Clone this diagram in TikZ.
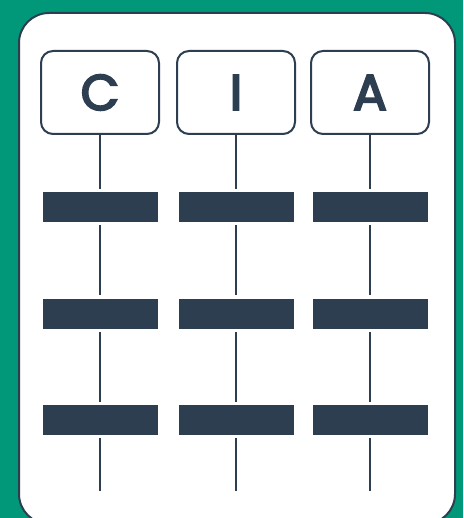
\documentclass[tikz,border=0pt]{standalone}
\usepackage{fontspec}
\setmainfont{Poppins}
\newfontfamily\headfont{Poppins}[FakeBold=4]
\usepackage{tikz}
\usetikzlibrary{positioning}
\definecolor{slate}{HTML}{2C3E50}
\definecolor{teal green}{HTML}{009879}

\begin{document}
\begin{tikzpicture}[
    x=1pt, y=1pt,
    node distance=76pt,
    head/.style={draw=slate, line width=2pt, rounded corners=12pt,
                 minimum width=118pt, minimum height=83pt, inner sep=0pt,
                 text=slate, font=\headfont\fontsize{50}{50}\selectfont},
    bar/.style={fill=slate, minimum width=115pt, minimum height=30pt,
                inner sep=0pt},
    link/.style={draw=slate, line width=2.2pt},
    gap/.style={shorten >=3pt},
    gaps/.style={shorten <=3pt, shorten >=3pt}
  ]
    % background and panel
    \fill[teal green] (0,0) rectangle (463,518);
    \useasboundingbox (0,0) rectangle (463,518);
    \draw[slate, fill=white, line width=2pt, rounded corners=30pt]
      (19,-6) rectangle (455,505);
    % headers
    \node[head] (C) at (100,425.5) {C};
    \node[head] (I) at (236,425.5) {I};
    \node[head] (A) at (370,425.5) {A};
    % bars
    \node[bar, below=57pt of C] (C1) {};
    \node[bar, below=of C1]     (C2) {};
    \node[bar, below=of C2]     (C3) {};
    \node[bar, below=57pt of I] (I1) {};
    \node[bar, below=of I1]     (I2) {};
    \node[bar, below=of I2]     (I3) {};
    \node[bar, below=57pt of A] (A1) {};
    \node[bar, below=of A1]     (A2) {};
    \node[bar, below=of A2]     (A3) {};
    \coordinate (Cend) at (100,27);
    \coordinate (Iend) at (236,27);
    \coordinate (Aend) at (370,27);
    % links
    \draw[link, gap]  (C.south)  -- (C1.north);
    \draw[link, gaps] (C1.south) -- (C2.north);
    \draw[link, gaps] (C2.south) -- (C3.north);
    \draw[link, shorten <=3pt] (C3.south) -- (Cend);
    \draw[link, gap]  (I.south)  -- (I1.north);
    \draw[link, gaps] (I1.south) -- (I2.north);
    \draw[link, gaps] (I2.south) -- (I3.north);
    \draw[link, shorten <=3pt] (I3.south) -- (Iend);
    \draw[link, gap]  (A.south)  -- (A1.north);
    \draw[link, gaps] (A1.south) -- (A2.north);
    \draw[link, gaps] (A2.south) -- (A3.north);
    \draw[link, shorten <=3pt] (A3.south) -- (Aend);
\end{tikzpicture}
\end{document}
